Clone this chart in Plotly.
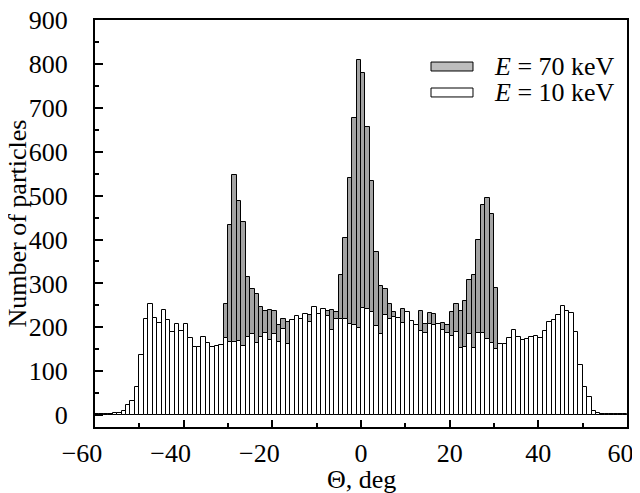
import plotly.graph_objects as go

# bin left edges (degrees), 1-degree bins from -60 to 59
bin_left = list(range(-60, 60))

# E = 10 keV (white bars)
counts_10 = [2, 2, 3, 3, 4, 5, 9, 22, 32, 65,
             138, 219, 254, 222, 211, 239, 216, 190, 207, 191,
             207, 175, 155, 155, 179, 164, 155, 158, 160, 176,
             167, 166, 168, 157, 178, 185, 164, 179, 186, 171,
             185, 167, 197, 161, 217, 226, 220, 231, 212, 246,
             231, 242, 226, 193, 220, 220, 220, 207, 205, 199,
             245, 242, 235, 203, 185, 229, 219, 224, 221, 210,
             234, 214, 206, 191, 186, 207, 205, 208, 195, 187,
             180, 189, 154, 155, 184, 152, 186, 187, 174, 164,
             150, 161, 161, 176, 195, 177, 172, 174, 178, 180,
             176, 192, 212, 216, 228, 248, 237, 232, 189, 114,
             65, 41, 10, 4, 2, 2, 2, 3, 3, 2]

# E = 70 keV (gray bars)
counts_70 = [1, 1, 2, 2, 3, 4, 7, 15, 25, 50,
             110, 180, 210, 190, 180, 200, 185, 165, 175, 165,
             170, 150, 140, 135, 150, 140, 135, 140, 145, 254,
             434, 548, 488, 441, 314, 288, 277, 247, 237, 240,
             238, 206, 219, 212, 205, 210, 210, 220, 227, 230,
             222, 232, 238, 240, 235, 320, 404, 540, 676, 809,
             780, 657, 534, 371, 294, 288, 253, 235, 212, 242,
             225, 205, 198, 237, 208, 233, 230, 200, 211, 206,
             236, 254, 238, 261, 308, 320, 399, 479, 494, 458,
             290, 150, 150, 165, 180, 165, 160, 160, 165, 168,
             165, 180, 198, 200, 212, 230, 220, 215, 175, 100,
             55, 35, 8, 3, 1, 1, 1, 2, 2, 1]

x_ticks = [-60, -40, -20, 0, 20, 40, 60]
x_ticktext = ["\u221260\u2003", "\u221240\u2003", "\u221220\u2003", "0", "20", "40", "60\u2002"]
y_ticks = [0, 100, 200, 300, 400, 500, 600, 700, 800, 900]

centers = [b + 0.5 for b in bin_left]
FONT = "Liberation Serif, Times New Roman, serif"
GRAY = "#a3a3a3"
LEGEND_GRAY = "#bdbdbd"
FS = 26

# figure is placed 8px in from the page corner (default page margin)
L, R, T, B = 87, 13, 12, 66
W, H = 632, 485

fig = go.Figure()
fig.add_trace(go.Bar(x=centers, y=counts_70, width=1.0, name="E = 70 keV",
                     marker=dict(color=GRAY, line=dict(color="black", width=1)),
                     showlegend=False))
fig.add_trace(go.Bar(x=centers, y=counts_10, width=1.0, name="E = 10 keV",
                     marker=dict(color="white", line=dict(color="black", width=1)),
                     showlegend=False))

# manual legend (swatches + text)
legend_items = [(LEGEND_GRAY, "<i>E</i> = 70 keV", 0.8857), ("white", "<i>E</i> = 10 keV", 0.8219)]
for color, label, yc in legend_items:
    fig.add_shape(type="rect", xref="paper", yref="paper",
                  x0=0.6316, x1=0.7105, y0=yc - 0.011, y1=yc + 0.011,
                  fillcolor=color, line=dict(color="black", width=1))
    fig.add_annotation(xref="paper", yref="paper", x=0.746, y=yc, text=label,
                       showarrow=False, xanchor="left", yanchor="middle",
                       font=dict(family=FONT, size=FS, color="black"))

# axis titles
fig.add_annotation(xref="paper", yref="paper", x=0, y=0.5, xshift=-78,
                   text="Number of particles", textangle=-90, showarrow=False,
                   xanchor="center", yanchor="middle",
                   font=dict(family=FONT, size=FS, color="black"))
fig.add_annotation(xref="paper", yref="paper", x=0.5, y=0, yshift=-52,
                   text="\u0398, deg", showarrow=False,
                   xanchor="center", yanchor="middle",
                   font=dict(family=FONT, size=FS, color="black"))

fig.update_layout(
    width=W, height=H,
    margin=dict(l=L, r=R, t=T, b=B),
    paper_bgcolor="white", plot_bgcolor="white",
    barmode="overlay", bargap=0,
    font=dict(family=FONT, size=FS, color="black"),
)
fig.update_xaxes(
    range=[-60, 60], tickvals=x_ticks, ticktext=x_ticktext,
    ticks="inside", ticklen=7, tickwidth=1.5, tickcolor="black",
    minor=dict(dtick=10, tick0=0, ticks="inside", ticklen=4, tickwidth=1.5, tickcolor="black"),
    showline=True, linewidth=2, linecolor="black", mirror=True,
    showgrid=False, zeroline=False, automargin=False,
    tickfont=dict(family=FONT, size=FS),
    ticklabelstandoff=2, ticklabeloverflow="allow",
)
fig.update_yaxes(
    range=[-27, 900], tickvals=y_ticks,
    ticks="inside", ticklen=8, tickwidth=1.5, tickcolor="black",
    minor=dict(dtick=50, tick0=0, ticks="inside", ticklen=4, tickwidth=1.5, tickcolor="black"),
    showline=True, linewidth=2, linecolor="black", mirror=True,
    showgrid=False, zeroline=False, automargin=False,
    tickfont=dict(family=FONT, size=FS),
    ticklabelstandoff=20, ticklabeloverflow="allow",
)

fig.write_html("out.html")
